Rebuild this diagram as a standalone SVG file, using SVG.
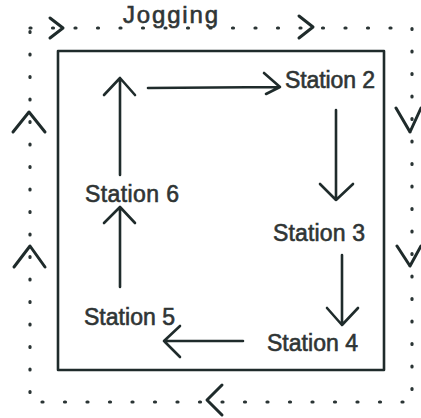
<svg xmlns="http://www.w3.org/2000/svg" width="421" height="418" viewBox="0 0 421 418">
<style>
.ln{stroke:#1f2b2b;stroke-width:2.6;fill:none;stroke-linecap:round;stroke-linejoin:round}
.dot{stroke:#2a3434;stroke-width:3.2;fill:none;stroke-linecap:round;stroke-dasharray:1 21.5}
.ch{stroke:#1f2b2b;stroke-width:3;fill:none;stroke-linecap:round;stroke-linejoin:round}
.t{font-family:"Liberation Sans",Arial,sans-serif;font-size:23px;fill:#2f3535;stroke:#2f3535;stroke-width:0.6}
</style>
<rect width="421" height="418" fill="#fff"/>
<g id="jogging-track">
<rect class="dot" x="30" y="28" width="382" height="374"/>
<path class="ch" d="M50,18 L63,28 L50,38"/>
<path class="ch" d="M299,16 L313,27 L299,38"/>
<path class="ch" d="M396,108 L410,132 M421,108 L410,132"/>
<path class="ch" d="M397,246 L410,266 M421,246 L410,266"/>
<path class="ch" d="M222,385 L207,400 L222,415"/>
<path class="ch" d="M13,132 L29,112 L45,132"/>
<path class="ch" d="M14,267 L30,246 L45,267"/>
<text class="t" x="123" y="23" textLength="95" style="font-size:24px">Jogging</text>
</g>
<g id="field">
<rect class="ln" x="58" y="51" width="326" height="319" stroke-width="3"/>
</g>
<g id="station2"><text class="t" x="285" y="88" textLength="90">Station 2</text></g>
<g id="station3"><text class="t" x="273" y="241" textLength="92">Station 3</text></g>
<g id="station4"><text class="t" x="267" y="351" textLength="91">Station 4</text></g>
<g id="station5"><text class="t" x="84" y="325" textLength="91">Station 5</text></g>
<g id="station6"><text class="t" x="85" y="202" textLength="94">Station 6</text></g>
<g id="connectors">
<path class="ln" d="M120,175 L120,78 M104,95 L120,78 L135,95"/>
<path class="ln" d="M148,88 L280,87 M264,73 L280,87 L266,94"/>
<path class="ln" d="M336,110 L336,200 M320,184 L336,200 L353,184"/>
<path class="ln" d="M342,255 L342,325 M327,308 L342,325 L358,308"/>
<path class="ln" d="M243,341 L164,341 M180,326 L164,341 L180,357"/>
<path class="ln" d="M120,287 L120,207 M104,223 L120,207 L135,223"/>
</g>
</svg>
